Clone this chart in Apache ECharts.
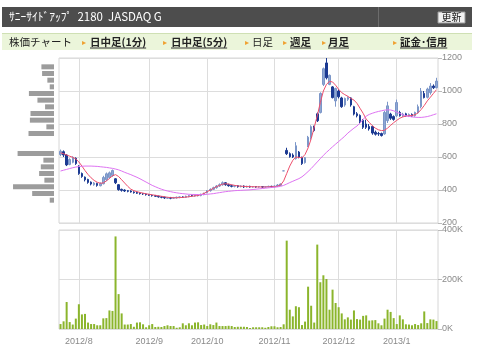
<!DOCTYPE html>
<html>
<head>
<meta charset="utf-8">
<script src="https://cdn.jsdelivr.net/npm/echarts@6/dist/echarts.min.js"></script>
<style>
html, body { margin: 0; padding: 0; background: #fff; }
#chart { width: 480px; height: 354px; }
</style>
</head>
<body>
<div id="chart"></div>
<script>
// trading days shown on the chart
var dates = [
  '2012/7/24','2012/7/25','2012/7/26','2012/7/27','2012/7/30','2012/7/31',
  '2012/8/1','2012/8/2','2012/8/3','2012/8/6','2012/8/7','2012/8/8','2012/8/9','2012/8/10',
  '2012/8/13','2012/8/14','2012/8/15','2012/8/16','2012/8/17','2012/8/20','2012/8/21','2012/8/22',
  '2012/8/23','2012/8/24','2012/8/27','2012/8/28','2012/8/29','2012/8/30','2012/8/31',
  '2012/9/3','2012/9/4','2012/9/5','2012/9/6','2012/9/7','2012/9/10','2012/9/11','2012/9/12',
  '2012/9/13','2012/9/14','2012/9/18','2012/9/19','2012/9/20','2012/9/21','2012/9/24','2012/9/25',
  '2012/9/26','2012/9/27','2012/9/28',
  '2012/10/1','2012/10/2','2012/10/3','2012/10/4','2012/10/5','2012/10/9','2012/10/10','2012/10/11',
  '2012/10/12','2012/10/15','2012/10/16','2012/10/17','2012/10/18','2012/10/19','2012/10/22','2012/10/23',
  '2012/10/24','2012/10/25','2012/10/26','2012/10/29','2012/10/30','2012/10/31',
  '2012/11/1','2012/11/2','2012/11/5','2012/11/6','2012/11/7','2012/11/8','2012/11/9','2012/11/12',
  '2012/11/13','2012/11/14','2012/11/15','2012/11/16','2012/11/19','2012/11/20','2012/11/21','2012/11/22',
  '2012/11/26','2012/11/27','2012/11/28','2012/11/29','2012/11/30',
  '2012/12/3','2012/12/4','2012/12/5','2012/12/6','2012/12/7','2012/12/10','2012/12/11','2012/12/12',
  '2012/12/13','2012/12/14','2012/12/17','2012/12/18','2012/12/19','2012/12/20','2012/12/21','2012/12/25',
  '2012/12/26','2012/12/27','2012/12/28',
  '2013/1/4','2013/1/7','2013/1/8','2013/1/9','2013/1/10','2013/1/11','2013/1/15','2013/1/16',
  '2013/1/17','2013/1/18','2013/1/21','2013/1/22','2013/1/23','2013/1/24'
];

// open, close, low, high
var candles = [
  [615,635,605,645],[632,612,600,640],[612,552,545,616],[555,585,550,592],[568,598,562,604],[592,560,552,598],
  [545,500,492,550],[500,482,474,506],[478,462,452,482],[464,446,438,468],[448,436,428,452],[432,442,426,448],
  [440,428,420,444],[426,440,422,446],[438,476,434,486],[462,498,454,506],[476,504,468,512],[488,518,480,524],
  [468,444,436,472],[432,402,396,436],[404,398,390,408],[400,394,388,404],[396,392,386,400],[394,388,384,398],
  [388,384,378,392],[386,380,376,390],[382,378,372,386],[378,376,370,382],[376,372,366,380],
  [372,368,364,376],[368,366,360,372],[366,362,358,370],[362,358,354,366],[358,356,350,362],[356,352,346,360],
  [350,354,346,358],[354,350,344,358],[350,354,346,358],[352,356,348,360],[356,358,350,362],[358,356,352,362],
  [356,362,352,366],[360,366,356,370],[366,364,360,372],[364,370,360,374],[368,366,362,372],[366,374,362,378],
  [372,380,368,384],
  [384,396,380,400],[396,404,390,410],[404,414,400,420],[414,424,408,430],[424,432,418,440],[432,444,426,452],
  [444,432,426,448],[432,426,420,438],[426,422,416,432],[422,426,416,430],[426,420,414,430],[420,424,416,428],
  [424,418,412,428],[418,422,414,426],[422,418,414,426],[418,420,414,424],[420,418,414,424],[418,420,414,424],
  [420,418,412,424],[418,420,414,424],[420,422,416,426],[422,420,416,426],
  [420,424,416,428],[424,430,418,436],[428,436,424,440],[516,516,516,516],[640,620,612,656],[620,602,596,628],
  [612,600,594,622],[590,668,584,690],[630,600,592,636],[598,560,552,602],[566,596,560,600],[668,720,660,728],
  [720,784,705,792],[780,760,752,790],[862,820,812,870],[870,985,864,992],[1040,1135,1030,1142],[1170,1080,1070,1200],
  [1040,1095,1035,1100],[1025,960,955,1030],[940,1015,905,1020],
  [1000,965,955,1010],[958,905,898,965],[915,955,905,960],[950,960,940,968],[958,915,905,962],[905,860,852,910],
  [862,850,840,872],[852,815,806,858],[822,780,770,830],[800,780,770,826],[785,770,760,800],[785,745,735,790],
  [750,738,730,760],[742,740,728,752],[742,730,724,748],[740,870,735,880],[820,910,806,935],[860,835,825,868],
  [845,828,820,852],
  [850,930,842,948],[870,850,845,880],[850,860,842,868],[862,850,845,868],[850,858,842,864],[858,848,842,864],
  [850,870,844,875],[868,905,862,918],[905,1000,895,1018],[985,960,955,1000],[962,1012,955,1020],[990,1030,978,1048],
  [1030,1020,1012,1040],[1020,1060,1015,1080]
];

// short moving average (red)
var ma5 = [
  625,620,612,605,598,588,
  570,545,518,494,474,458,447,441,443,455,470,486,493,482,462,442,422,405,396,390,385,381,377,
  374,371,368,365,362,359,356,354,353,353,354,355,357,359,362,364,367,372,380,
  390,400,410,420,428,435,438,436,432,428,425,423,422,421,420,420,419,419,418,418,419,420,
  420,423,430,455,500,545,580,600,598,595,615,655,710,780,850,930,1000,1040,1058,1055,1035,
  1010,990,978,968,955,945,925,895,865,830,810,790,775,765,760,762,775,792,808,
  822,835,843,848,850,852,856,868,888,912,940,962,985,1008
];

// long moving average (violet)
var ma25 = [
  515,520,525,530,535,539,
  542,544,545,545,545,544,543,541,539,537,534,531,527,522,515,507,500,493,485,477,468,458,448,
  438,428,420,412,405,399,394,390,386,383,380,378,376,374,373,373,372,372,373,
  374,376,378,381,384,387,390,392,394,396,397,398,399,400,401,403,405,407,409,411,413,415,
  417,419,422,428,436,445,453,461,469,480,495,512,530,550,570,590,610,628,645,662,678,
  694,710,726,745,760,775,788,806,828,848,858,865,871,876,880,884,886,885,880,
  872,864,856,850,846,843,841,840,840,842,845,850,856,862
];

// daily volume, thousand shares
var volume = [
  20,31,109,28,18,42,
  100,59,61,26,20,20,15,15,43,44,75,73,374,141,63,18,18,20,9,26,27,19,7,
  15,20,8,9,8,12,15,12,12,5,7,23,15,23,15,26,27,16,18,
  12,19,16,26,12,12,12,13,12,8,9,9,9,8,4,7,7,7,7,5,8,11,
  11,7,8,19,357,78,51,92,88,16,30,171,94,26,341,189,217,202,78,159,105,
  88,63,39,47,38,75,40,38,53,55,34,35,36,23,15,42,78,69,44,
  20,55,39,19,18,15,20,16,23,71,24,39,38,32
];

// volume by price band (left gray bars), top band first
var profileBands = ['1160','1120','1080','1040','1000','960','920','880','840','800','760',
  '720','680','640','600','560','520','480','440','400','360'];
var profileVolume = [381,360,201,129,759,501,270,711,729,231,771,0,0,1101,321,399,450,291,1239,660,129];

var priceTicks = { min: 200, max: 1200, step: 200 };

var myChart = echarts.init(document.getElementById('chart'));

function isMonthStart(idx) {
  if (idx === 0) return false;
  return dates[idx].split('/')[1] !== dates[idx - 1].split('/')[1];
}

var gridLine = { lineStyle: { color: '#dddddd', width: 1 } };
var labelFont = { color: '#8a8a8a', fontSize: 9, fontFamily: 'Liberation Sans, Arial, sans-serif' };
var navFont = '"Noto Sans CJK JP", sans-serif';

var navItems = [
  { text: '日中足(1分)', x: 90, arrow: 82, link: true },
  { text: '日中足(5分)', x: 171, arrow: 163, link: true },
  { text: '日足', x: 252, arrow: 245, link: false },
  { text: '週足', x: 290, arrow: 283, link: true },
  { text: '月足', x: 328, arrow: 322, link: true },
  { text: '証金･信用', x: 400, arrow: 393, link: true }
];

// used only to size the link underlines
var measure = document.createElement('canvas').getContext('2d');

var graphics = [
  { type: 'rect', shape: { x: 2, y: 7, width: 470, height: 20 }, style: { fill: '#4d4d4d' } },
  { type: 'rect', shape: { x: 378, y: 7, width: 1, height: 20 }, style: { fill: '#6c6c6c' } },
  { type: 'text', x: 9, y: 17, style: { text: 'ｻﾆｰｻｲﾄﾞｱｯﾌﾟ  2180  JASDAQ G', fill: '#ffffff',
      font: '11.5px ' + navFont, verticalAlign: 'middle' } },
  { type: 'rect', shape: { x: 438, y: 12, width: 27, height: 11 }, style: { fill: '#f2f2f2', stroke: '#9a9a9a', lineWidth: 1 } },
  { type: 'text', x: 451.5, y: 17.5, style: { text: '更新', fill: '#222', font: '10px ' + navFont,
      align: 'center', verticalAlign: 'middle' } },
  { type: 'rect', shape: { x: 2, y: 33, width: 470, height: 17 }, style: { fill: '#ebf5da' } },
  { type: 'rect', shape: { x: 2, y: 33, width: 470, height: 1 }, style: { fill: '#cfe0b4' } },
  { type: 'text', x: 9, y: 42, style: { text: '株価チャート', fill: '#222', font: '10.5px ' + navFont,
      verticalAlign: 'middle' } }
];

navItems.forEach(function (n) {
  var font = (n.link ? 'bold ' : '') + '10.5px ' + navFont;
  graphics.push({ type: 'text', x: n.arrow, y: 41.5, style: { text: '▸', fill: '#f0a030', font: '8px ' + navFont, verticalAlign: 'middle' } });
  graphics.push({ type: 'text', x: n.x, y: 42, style: { text: n.text, fill: '#222', font: font, verticalAlign: 'middle' } });
  if (n.link) {
    measure.font = font;
    var w = measure.measureText(n.text).width;
    graphics.push({ type: 'rect', shape: { x: n.x, y: 47.5, width: w, height: 1 }, style: { fill: '#333' } });
  }
});

var option = {
  animation: false,
  backgroundColor: '#ffffff',
  graphic: graphics,
  grid: [
    { left: 59, right: 42, top: 58, height: 165, show: true, borderColor: '#d6d6d6', borderWidth: 1 },
    { left: 59, right: 42, top: 230, height: 99, show: true, borderColor: '#d6d6d6', borderWidth: 1 },
    { left: 13, width: 41, top: 63.5, height: 140 }
  ],
  xAxis: [
    {
      type: 'category', gridIndex: 0, data: dates, boundaryGap: true,
      axisLine: { show: false }, axisTick: { show: false }, axisLabel: { show: false },
      splitLine: { show: true, interval: isMonthStart, alignWithLabel: true, lineStyle: gridLine.lineStyle }
    },
    {
      type: 'category', gridIndex: 1, data: dates, boundaryGap: true,
      axisLine: { show: false }, axisTick: { show: false },
      axisLabel: Object.assign({ interval: isMonthStart, margin: 8,
        formatter: function (v) { return v.split('/').slice(0, 2).join('/'); } }, labelFont),
      splitLine: { show: true, interval: isMonthStart, alignWithLabel: true, lineStyle: gridLine.lineStyle }
    },
    {
      type: 'value', gridIndex: 2, inverse: true, min: 0, max: 1240, show: false
    }
  ],
  yAxis: [
    {
      type: 'value', gridIndex: 0, position: 'right', min: priceTicks.min, max: priceTicks.max, interval: priceTicks.step,
      axisLine: { show: false }, axisTick: { show: true, length: 4, lineStyle: { color: '#bbbbbb' } },
      axisLabel: Object.assign({ margin: 4, formatter: function (v) { return String(v); } }, labelFont),
      splitLine: gridLine
    },
    {
      type: 'value', gridIndex: 1, position: 'right', min: 0, max: 400, interval: 200,
      axisLine: { show: false }, axisTick: { show: true, length: 4, lineStyle: { color: '#bbbbbb' } },
      axisLabel: Object.assign({ margin: 4, formatter: function (v) { return v + 'K'; } }, labelFont),
      splitLine: gridLine
    },
    {
      type: 'category', gridIndex: 2, data: profileBands, inverse: true, show: false
    }
  ],
  series: [
    {
      type: 'candlestick', xAxisIndex: 0, yAxisIndex: 0, data: candles, barWidth: 2,
      itemStyle: { color: '#8fa7d3', color0: '#1c3a92', borderColor: '#7b96c8', borderColor0: '#1c3a92', borderWidth: 1 }
    },
    {
      type: 'line', xAxisIndex: 0, yAxisIndex: 0, data: ma5, showSymbol: false,
      lineStyle: { color: '#ee4f6d', width: 1 }, z: 3
    },
    {
      type: 'line', xAxisIndex: 0, yAxisIndex: 0, data: ma25, showSymbol: false,
      lineStyle: { color: '#de73f2', width: 1 }, z: 3
    },
    {
      type: 'bar', xAxisIndex: 1, yAxisIndex: 1, data: volume, barWidth: 2,
      itemStyle: { color: '#8bb52c' }
    },
    {
      type: 'bar', xAxisIndex: 2, yAxisIndex: 2, data: profileVolume, barWidth: 5,
      itemStyle: { color: '#9c9c9c' }
    }
  ]
};

myChart.setOption(option);
</script>
</body>
</html>
